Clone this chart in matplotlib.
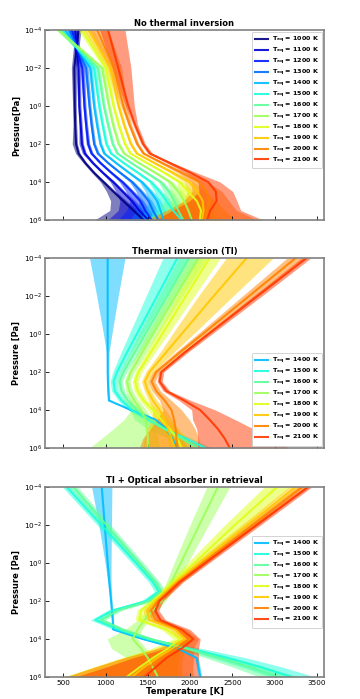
import matplotlib
matplotlib.use("Agg")
import matplotlib.pyplot as plt
import numpy as np

LOGP_A = [-4, -2, 0, 1, 2, 2.5, 3, 3.5, 4, 4.5, 5, 5.5, 6]
LOGP_B = [-4, -2, 0, 1, 2, 2.5, 3, 3.5, 4, 4.5, 5, 5.5, 6]
LOGP_C = [-4, -2, 0, 1, 1.5, 2, 2.5, 3, 3.5, 4, 4.5, 5, 5.5, 6]

ALL_TEQ = [1000, 1100, 1200, 1300, 1400, 1500, 1600, 1700, 1800, 1900, 2000, 2100]

# --- panel 1: no thermal inversion ---
TEQ_A = [1000, 1100, 1200, 1300, 1400, 1500, 1600, 1700, 1800, 1900, 2000, 2100]
T_A = [
    [680, 630, 635, 640, 650, 680, 760, 860, 975, 1090, 1210, 1330, 1450],
    [640, 680, 690, 705, 720, 755, 850, 965, 1090, 1200, 1310, 1400, 1505],
    [600, 725, 750, 770, 795, 835, 940, 1065, 1200, 1310, 1410, 1470, 1545],
    [570, 770, 810, 835, 865, 910, 1030, 1170, 1315, 1420, 1510, 1560, 1625],
    [520, 820, 865, 900, 940, 985, 1125, 1275, 1430, 1530, 1610, 1650, 1685],
    [480, 865, 925, 965, 1010, 1065, 1215, 1380, 1540, 1640, 1720, 1800, 1900],
    [455, 910, 980, 1030, 1085, 1140, 1305, 1480, 1655, 1750, 1815, 1860, 1920],
    [445, 960, 1040, 1090, 1155, 1220, 1395, 1585, 1765, 1860, 1930, 1980, 2020],
    [720, 1005, 1095, 1155, 1230, 1295, 1490, 1690, 1880, 1975, 2080, 2130, 2115],
    [800, 1055, 1155, 1220, 1300, 1370, 1580, 1790, 1990, 2085, 2150, 2160, 2140],
    [900, 1100, 1210, 1285, 1375, 1450, 1670, 1895, 2105, 2195, 2230, 2200, 2175],
    [1030, 1150, 1270, 1350, 1445, 1525, 1760, 2000, 2215, 2305, 2315, 2240, 2205],
]
LO_A = [
    [40, 35, 25, 25, 45, 35, 25, 25, 35, 80, 150, 280, 580],
    [40, 30, 20, 20, 35, 30, 20, 20, 35, 80, 140, 250, 480],
    [35, 25, 18, 18, 25, 20, 20, 20, 35, 70, 120, 220, 400],
    [35, 25, 18, 18, 18, 18, 18, 20, 30, 60, 110, 200, 330],
    [35, 25, 18, 18, 18, 18, 18, 20, 30, 60, 100, 180, 280],
    [35, 25, 18, 18, 18, 18, 18, 20, 30, 60, 120, 220, 400],
    [35, 25, 18, 18, 18, 18, 18, 20, 30, 60, 120, 230, 420],
    [35, 25, 18, 18, 18, 18, 18, 20, 35, 80, 150, 250, 450],
    [50, 30, 18, 18, 18, 18, 20, 25, 40, 100, 180, 300, 500],
    [60, 40, 20, 18, 18, 18, 25, 35, 60, 120, 220, 380, 600],
    [90, 60, 30, 20, 20, 20, 30, 50, 90, 170, 300, 480, 700],
    [100, 70, 35, 25, 25, 25, 35, 60, 120, 200, 320, 450, 620],
]
HI_A = [
    [30, 25, 18, 18, 18, 18, 18, 18, 25, 30, 40, 50, 60],
    [30, 25, 18, 18, 18, 18, 18, 18, 25, 30, 40, 50, 60],
    [30, 25, 18, 18, 18, 18, 18, 18, 25, 30, 40, 50, 60],
    [30, 25, 18, 18, 18, 18, 18, 18, 25, 30, 40, 50, 60],
    [30, 25, 18, 18, 18, 18, 18, 18, 25, 35, 45, 60, 80],
    [30, 25, 18, 18, 18, 18, 18, 18, 25, 35, 50, 70, 100],
    [30, 25, 18, 18, 18, 18, 18, 20, 30, 40, 60, 80, 120],
    [35, 25, 18, 18, 18, 18, 20, 25, 35, 50, 70, 100, 150],
    [45, 30, 18, 18, 18, 18, 25, 30, 45, 60, 80, 120, 200],
    [60, 40, 20, 18, 18, 18, 30, 40, 60, 100, 150, 250, 400],
    [130, 90, 40, 25, 20, 20, 35, 60, 110, 180, 230, 350, 620],
    [200, 150, 70, 30, 25, 30, 40, 70, 140, 200, 240, 360, 660],
]

# --- panel 2: thermal inversion ---
TEQ_B = [1400, 1500, 1600, 1700, 1800, 1900, 2000, 2100]
T_B = [
    [1025, 1025, 1025, 1025, 1025, 1028, 1032, 1040, 1300, 1590, 1720, 1790, 1850],
    [1850, 1610, 1370, 1250, 1135, 1095, 1110, 1190, 1310, 1500, 1700, 1950, 2180],
    [1990, 1730, 1470, 1340, 1210, 1165, 1190, 1260, 1370, 1520, 1700, 1900, 2090],
    [2100, 1830, 1560, 1430, 1300, 1255, 1280, 1340, 1420, 1470, 1490, 1500, 1500],
    [2230, 1950, 1670, 1530, 1390, 1350, 1380, 1450, 1560, 1660, 1760, 1850, 1900],
    [2670, 2280, 1900, 1710, 1520, 1465, 1500, 1560, 1640, 1700, 1740, 1780, 1820],
    [3250, 2700, 2150, 1870, 1600, 1545, 1600, 1700, 1780, 1810, 1830, 1840, 1850],
    [3380, 2800, 2220, 1930, 1660, 1640, 1720, 1930, 2120, 2230, 2330, 2410, 2470],
]
LO_B = [
    [215, 130, 50, 15, 12, 12, 12, 12, 15, 20, 20, 20, 20],
    [170, 130, 90, 70, 50, 40, 40, 40, 45, 50, 60, 70, 80],
    [120, 100, 80, 60, 40, 35, 35, 40, 80, 180, 200, 150, 120],
    [100, 90, 70, 55, 40, 35, 40, 60, 120, 250, 400, 550, 690],
    [130, 100, 70, 50, 40, 35, 40, 45, 60, 80, 100, 120, 140],
    [240, 180, 110, 70, 45, 40, 40, 50, 80, 150, 250, 320, 380],
    [100, 80, 60, 50, 40, 40, 50, 60, 100, 200, 300, 400, 450],
    [60, 50, 40, 35, 30, 30, 40, 60, 100, 200, 250, 320, 380],
]
HI_B = [
    [205, 125, 50, 15, 12, 12, 12, 12, 15, 20, 20, 20, 20],
    [130, 100, 70, 55, 45, 40, 40, 40, 45, 50, 60, 70, 80],
    [120, 100, 80, 60, 40, 35, 35, 40, 50, 60, 60, 60, 60],
    [100, 80, 60, 50, 40, 35, 40, 50, 60, 80, 100, 120, 140],
    [130, 100, 70, 50, 40, 35, 40, 45, 60, 80, 100, 120, 140],
    [315, 230, 140, 90, 50, 40, 40, 50, 70, 90, 110, 130, 150],
    [100, 80, 60, 50, 40, 40, 50, 80, 120, 180, 230, 260, 270],
    [50, 50, 40, 35, 30, 30, 40, 80, 180, 300, 420, 560, 700],
]

# --- panel 3: TI + optical absorber in retrieval ---
TEQ_C = [1400, 1500, 1600, 1700, 1800, 1900, 2000, 2100]
T_C = [
    [955, 990, 1025, 1045, 1055, 1065, 1075, 1085, 1090, 1440, 1850, 2080, 2100, 2120],
    [540, 950, 1360, 1560, 1630, 1480, 1080, 880, 1150, 1500, 1990, 2450, 2850, 3200],
    [620, 1010, 1400, 1590, 1660, 1520, 1140, 950, 1200, 1530, 1950, 2350, 2720, 3050],
    [2330, 2110, 1890, 1780, 1730, 1660, 1560, 1460, 1380, 1320, 1420, 1500, 1560, 1620],
    [3030, 2530, 2050, 1800, 1690, 1560, 1420, 1400, 1720, 1880, 1740, 1560, 1400, 1250],
    [3250, 2680, 2110, 1830, 1710, 1590, 1490, 1520, 1820, 1940, 1790, 1610, 1450, 1310],
    [3330, 2740, 2150, 1860, 1740, 1620, 1540, 1590, 1880, 2000, 1840, 1660, 1510, 1380],
    [3400, 2790, 2180, 1880, 1760, 1640, 1590, 1650, 1900, 2040, 1900, 1720, 1590, 1460],
]
LO_C = [
    [120, 70, 30, 20, 15, 12, 10, 10, 10, 15, 20, 20, 20, 20],
    [50, 50, 50, 50, 50, 60, 60, 60, 60, 80, 120, 180, 220, 250],
    [50, 50, 50, 50, 50, 50, 50, 50, 50, 70, 110, 160, 200, 230],
    [130, 110, 80, 60, 50, 50, 60, 80, 150, 300, 350, 250, 60, 40],
    [150, 120, 80, 60, 50, 50, 50, 50, 60, 80, 200, 380, 560, 750],
    [80, 70, 60, 50, 45, 45, 45, 45, 60, 80, 200, 400, 600, 780],
    [60, 60, 50, 45, 45, 45, 45, 45, 60, 80, 220, 450, 650, 860],
    [50, 50, 45, 40, 40, 40, 40, 45, 60, 80, 200, 400, 600, 820],
]
HI_C = [
    [120, 80, 40, 20, 15, 12, 10, 10, 10, 15, 20, 20, 20, 20],
    [50, 50, 50, 50, 50, 60, 60, 60, 60, 80, 150, 220, 260, 280],
    [50, 50, 50, 50, 50, 50, 50, 50, 50, 70, 110, 160, 200, 230],
    [140, 110, 80, 60, 60, 50, 50, 50, 50, 60, 60, 50, 40, 40],
    [150, 120, 80, 60, 50, 50, 50, 50, 60, 80, 150, 300, 450, 600],
    [80, 70, 60, 50, 45, 45, 45, 45, 60, 80, 150, 300, 450, 600],
    [60, 60, 50, 45, 45, 45, 45, 50, 80, 100, 200, 380, 520, 660],
    [40, 45, 45, 40, 40, 40, 40, 60, 100, 80, 200, 380, 500, 640],
]

XTICKS = [500, 1000, 1500, 2000, 2500, 3000, 3500]
YTICKS = [1e-4, 1e-2, 1e0, 1e2, 1e4, 1e6]

COLORS = dict(zip(ALL_TEQ, plt.cm.jet(np.linspace(0.0, 0.85, len(ALL_TEQ)))))


def plot_panel(ax, logp, teqs, temps, lo, hi, title, ylabel, legend_loc, show_xlabels):
    p = 10.0 ** np.array(logp)
    # bands first, lines on top
    for teq, t, dl, dh in zip(teqs, temps, lo, hi):
        t = np.array(t, dtype=float)
        ax.fill_betweenx(p, t - np.array(dl), t + np.array(dh),
                         color=COLORS[teq], alpha=0.5, linewidth=0)
    for teq, t in zip(teqs, temps):
        ax.plot(t, p, color=COLORS[teq], alpha=0.9, linewidth=1.5,
                label=r"T$_{\mathbf{eq}}$ = %d K" % teq)

    ax.set_yscale("log")
    ax.set_ylim(1e6, 1e-4)
    ax.set_xlim(283, 3586)
    ax.set_yticks(YTICKS)
    ax.yaxis.set_minor_locator(matplotlib.ticker.NullLocator())
    ax.set_xticks(XTICKS)
    if not show_xlabels:
        ax.set_xticklabels([])
    else:
        ax.set_xlabel("Temperature [K]", fontsize=6, fontweight="bold", labelpad=1)
    ax.tick_params(direction="in", length=3, width=0.6, labelsize=5.2, pad=2,
                   colors="black")
    for sp in ax.spines.values():
        sp.set_color("#808080")
        sp.set_linewidth(1.2)
    ax.set_title(title, fontsize=6, fontweight="bold", pad=3)
    ax.set_ylabel(ylabel, fontsize=6, fontweight="bold", labelpad=2)
    leg = ax.legend(loc=legend_loc, prop={"weight": "bold", "size": 4.6},
                    handlelength=2.0, handletextpad=0.6, labelspacing=0.12,
                    borderpad=0.45, borderaxespad=0.3,
                    framealpha=1.0, edgecolor="#cccccc", fancybox=True)
    leg.get_frame().set_linewidth(0.6)


def main() -> None:
    fig = plt.figure(figsize=(3.6, 6.99), dpi=100)
    left, width = 0.125, 0.775
    ax1 = fig.add_axes([left, 0.6853, width, 0.2718])
    ax2 = fig.add_axes([left, 0.3591, width, 0.2718])
    ax3 = fig.add_axes([left, 0.0315, width, 0.2718])

    plot_panel(ax1, LOGP_A, TEQ_A, T_A, LO_A, HI_A, "No thermal inversion",
               "Pressure[Pa]", "upper right", False)
    plot_panel(ax2, LOGP_B, TEQ_B, T_B, LO_B, HI_B, "Thermal inversion (TI)",
               "Pressure [Pa]", "lower right", False)
    plot_panel(ax3, LOGP_C, TEQ_C, T_C, LO_C, HI_C, "TI + Optical absorber in retrieval",
               "Pressure [Pa]", "center right", True)

    fig.savefig("out.png", dpi=100)
    plt.close(fig)


if __name__ == "__main__":
    main()
